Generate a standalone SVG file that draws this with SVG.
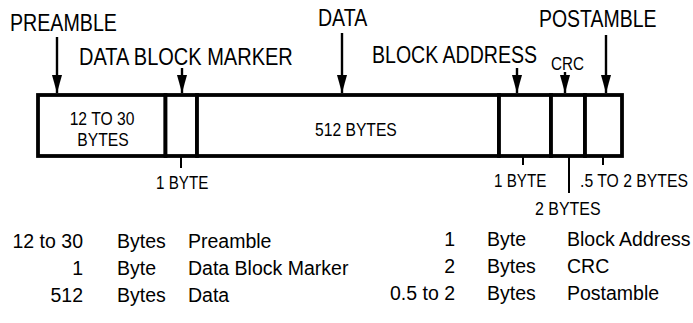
<svg xmlns="http://www.w3.org/2000/svg" width="693" height="323" viewBox="0 0 693 323">
<style>
text{font-family:"Liberation Sans",Arial,sans-serif;fill:#000}
.lbl{font-size:23px}
.sm{font-size:19px}
.in{font-size:18px}
.tb{font-size:19.5px}
.seg{fill:#fff;stroke:#000;stroke-width:3.8}
.ar{stroke:#000;stroke-width:2.4;fill:none}
.tk{stroke:#000;stroke-width:2;fill:none}
</style>
<defs>
<marker id="ah" markerUnits="userSpaceOnUse" markerWidth="18" markerHeight="10" refX="18" refY="5" orient="auto">
<path d="M0,0 L18,5 L0,10 z" fill="#000"/>
</marker>
</defs>
<rect width="693" height="323" fill="#fff"/>
<g id="seg-preamble"><rect class="seg" x="38" y="95" width="127.5" height="61"/>
<text class="in" transform="translate(102,125) scale(0.87,1)" text-anchor="middle">12 TO 30</text>
<text class="in" transform="translate(103,146) scale(0.87,1)" text-anchor="middle">BYTES</text></g>
<g id="seg-marker"><rect class="seg" x="165.5" y="95" width="31.5" height="61"/></g>
<g id="seg-data"><rect class="seg" x="197" y="95" width="302" height="61"/>
<text class="in" transform="translate(315,136) scale(0.87,1)">512 BYTES</text></g>
<g id="seg-blockaddr"><rect class="seg" x="499" y="95" width="52" height="61"/></g>
<g id="seg-crc"><rect class="seg" x="551" y="95" width="34" height="61"/></g>
<g id="seg-postamble"><rect class="seg" x="585" y="95" width="37" height="61"/></g>
<g id="label-preamble"><text class="lbl" transform="translate(10,31) scale(0.854,1)">PREAMBLE</text></g>
<g id="label-marker"><text class="lbl" transform="translate(79,65) scale(0.87,1)">DATA BLOCK MARKER</text></g>
<g id="label-data"><text class="lbl" transform="translate(318,26) scale(0.85,1)">DATA</text></g>
<g id="label-blockaddr"><text class="lbl" transform="translate(372,63) scale(0.85,1)">BLOCK ADDRESS</text></g>
<g id="label-crc"><text class="sm" transform="translate(551,70) scale(0.8,1)">CRC</text></g>
<g id="label-postamble"><text class="lbl" transform="translate(539,27) scale(0.846,1)">POSTAMBLE</text></g>
<g id="connectors">
<line class="ar" x1="57" y1="37" x2="57" y2="93" marker-end="url(#ah)"/>
<line class="ar" x1="182" y1="68" x2="182" y2="93" marker-end="url(#ah)"/>
<line class="ar" x1="342" y1="33" x2="342" y2="93" marker-end="url(#ah)"/>
<line class="ar" x1="517" y1="68" x2="517" y2="93" marker-end="url(#ah)"/>
<line class="ar" x1="565" y1="72" x2="565" y2="93" marker-end="url(#ah)"/>
<line class="ar" x1="606" y1="35" x2="606" y2="93" marker-end="url(#ah)"/>
<line class="tk" x1="181" y1="157" x2="181" y2="168"/>
<line class="tk" x1="523" y1="157" x2="523" y2="165"/>
<line class="tk" x1="569" y1="157" x2="569" y2="193"/>
<line class="tk" x1="603" y1="157" x2="603" y2="165"/>
</g>
<g id="size-marker"><text class="sm" transform="translate(156,189) scale(0.8,1)">1 BYTE</text></g>
<g id="size-blockaddr"><text class="sm" transform="translate(494,187) scale(0.8,1)">1 BYTE</text></g>
<g id="size-crc"><text class="sm" transform="translate(535,215) scale(0.84,1)">2 BYTES</text></g>
<g id="size-postamble"><text class="sm" transform="translate(580,187) scale(0.83,1)">.5 TO 2 BYTES</text></g>
<g id="table-left">
<text class="tb" x="83" y="248" text-anchor="end">12 to 30</text>
<text class="tb" x="117" y="248">Bytes</text>
<text class="tb" x="188" y="248">Preamble</text>
<text class="tb" x="83" y="275" text-anchor="end">1</text>
<text class="tb" x="117" y="275">Byte</text>
<text class="tb" x="188" y="275">Data Block Marker</text>
<text class="tb" x="83" y="302" text-anchor="end">512</text>
<text class="tb" x="117" y="302">Bytes</text>
<text class="tb" x="188" y="302">Data</text>
</g>
<g id="table-right">
<text class="tb" x="455" y="246" text-anchor="end">1</text>
<text class="tb" x="487" y="246">Byte</text>
<text class="tb" x="567" y="246">Block Address</text>
<text class="tb" x="455" y="273" text-anchor="end">2</text>
<text class="tb" x="487" y="273">Bytes</text>
<text class="tb" x="567" y="273">CRC</text>
<text class="tb" x="455" y="300" text-anchor="end">0.5 to 2</text>
<text class="tb" x="487" y="300">Bytes</text>
<text class="tb" x="567" y="300">Postamble</text>
</g>
</svg>
